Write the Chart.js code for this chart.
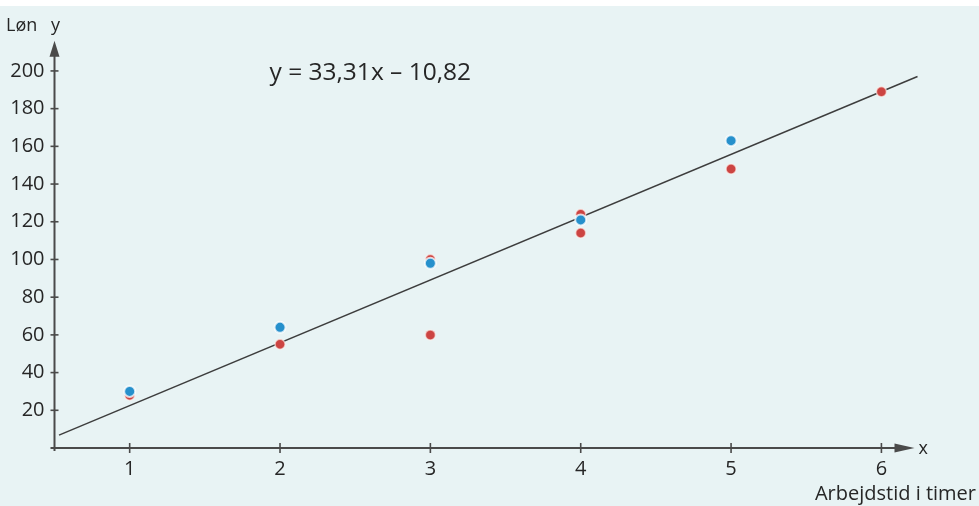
<!DOCTYPE html>
<html>
<head>
<meta charset="utf-8">
<script src="https://cdn.jsdelivr.net/npm/chart.js@4/dist/chart.umd.min.js"></script>
<style>
  html, body { margin: 0; padding: 0; background: #ffffff; }
  #wrap { width: 979px; height: 506px; position: relative; }
  canvas { display: block; }
</style>
</head>
<body>
<div id="wrap"><canvas id="c" width="979" height="506"></canvas></div>
<script>
// Arbejdstid (timer) og løn – to grupper af målinger
const blueX = [1, 2, 3, 4, 5];
const blueY = [30, 64, 98, 121, 163];
const redX = [1, 2, 3, 3, 4, 4, 5, 6];
const redY = [28, 55, 100, 60, 124, 114, 148, 189];

// Regressionslinje y = 33,31x − 10,82
const slope = 33.31;
const intercept = -10.82;
const lineX = [0.53, 6.24];

const xTicks = [1, 2, 3, 4, 5, 6];
const yTicks = [20, 40, 60, 80, 100, 120, 140, 160, 180, 200];

const equationText = 'y = 33,31x \u2013 10,82';
const yTitle = 'Løn';
const xTitle = 'Arbejdstid i timer';

const FONT = '"Open Sans", "DejaVu Sans", sans-serif';
const INK = '#262626';
const AXIS = '#4a4a4a';
const BG = '#e8f3f4';

const toPoints = (xs, ys) => xs.map((x, i) => ({ x, y: ys[i] }));

const frame = {
  id: 'frame',
  beforeDraw(chart) {
    const ctx = chart.ctx;
    ctx.save();
    ctx.fillStyle = '#ffffff';
    ctx.fillRect(0, 0, chart.width, chart.height);
    ctx.fillStyle = BG;
    ctx.fillRect(0, 6, chart.width, chart.height - 6);
    ctx.restore();
  },
  beforeDatasetsDraw(chart) {
    const ctx = chart.ctx;
    const xs = chart.scales.x, ys = chart.scales.y;
    const ax = xs.getPixelForValue(0.5);
    const ay = ys.getPixelForValue(0);
    ctx.save();
    ctx.strokeStyle = AXIS;
    ctx.fillStyle = AXIS;
    ctx.lineWidth = 2;
    // y-akse med pil
    const yTop = ys.getPixelForValue(216);
    ctx.beginPath();
    ctx.moveTo(ax, ay + 3);
    ctx.lineTo(ax, yTop + 12);
    ctx.stroke();
    ctx.beginPath();
    ctx.moveTo(ax, yTop);
    ctx.lineTo(ax - 5, yTop + 16);
    ctx.lineTo(ax + 5, yTop + 16);
    ctx.closePath();
    ctx.fill();
    // x-akse med pil
    const xEnd = xs.getPixelForValue(6.22);
    ctx.beginPath();
    ctx.moveTo(ax - 4, ay);
    ctx.lineTo(xEnd - 14, ay);
    ctx.stroke();
    ctx.beginPath();
    ctx.moveTo(xEnd, ay);
    ctx.lineTo(xEnd - 20, ay - 4.5);
    ctx.lineTo(xEnd - 20, ay + 4.5);
    ctx.closePath();
    ctx.fill();
    // tick marks
    ctx.lineWidth = 1.6;
    yTicks.forEach(v => {
      const p = ys.getPixelForValue(v);
      ctx.beginPath();
      ctx.moveTo(ax - 4, p);
      ctx.lineTo(ax + 4, p);
      ctx.stroke();
    });
    xTicks.forEach(v => {
      const p = xs.getPixelForValue(v);
      ctx.beginPath();
      ctx.moveTo(p, ay - 5);
      ctx.lineTo(p, ay + 5);
      ctx.stroke();
    });
    ctx.restore();
  },
  afterDraw(chart) {
    const ctx = chart.ctx;
    const xs = chart.scales.x, ys = chart.scales.y;
    const ax = xs.getPixelForValue(0.5);
    const ay = ys.getPixelForValue(0);
    ctx.save();
    ctx.fillStyle = INK;
    ctx.textBaseline = 'alphabetic';
    ctx.font = '18px ' + FONT;
    ctx.textAlign = 'left';
    ctx.fillText(yTitle, 6, 31);
    ctx.textAlign = 'center';
    ctx.fillText('y', ax + 1, 31);
    ctx.textAlign = 'left';
    ctx.textBaseline = 'middle';
    ctx.fillText('x', xs.getPixelForValue(6.22) + 4, ay + 1);
    ctx.textBaseline = 'alphabetic';
    ctx.font = '20px ' + FONT;
    ctx.textAlign = 'right';
    ctx.fillText(xTitle, 976, 500);
    ctx.font = '24.5px ' + FONT;
    ctx.textAlign = 'left';
    ctx.textBaseline = 'middle';
    ctx.fillText(equationText, xs.getPixelForValue(1.93), ys.getPixelForValue(199));
    ctx.restore();
  }
};

new Chart(document.getElementById('c'), {
  type: 'scatter',
  data: {
    datasets: [
      {
        label: 'blå',
        data: toPoints(blueX, blueY),
        backgroundColor: '#2690cc',
        borderColor: 'rgba(255,255,255,0.75)',
        borderWidth: 2,
        pointRadius: 5.5,
        order: 0
      },
      {
        label: 'rød',
        data: toPoints(redX, redY),
        backgroundColor: '#cc4442',
        borderColor: 'rgba(255,240,235,0.6)',
        borderWidth: 1.5,
        pointRadius: 5,
        order: 1
      },
      {
        label: 'regression',
        data: lineX.map(x => ({ x, y: slope * x + intercept })),
        showLine: true,
        borderColor: '#3d3d3d',
        borderWidth: 1.5,
        pointRadius: 0,
        order: 2
      }
    ]
  },
  options: {
    responsive: false,
    animation: false,
    events: [],
    layout: { padding: { top: 37, right: 60, left: 0, bottom: 0 } },
    plugins: { legend: { display: false }, tooltip: { enabled: false } },
    scales: {
      x: {
        type: 'linear',
        min: 0.5,
        max: 6.25,
        afterFit(scale) { scale.height = 58; },
        afterBuildTicks(scale) { scale.ticks = xTicks.map(v => ({ value: v })); },
        grid: { display: false, drawTicks: false },
        border: { display: false },
        ticks: {
          padding: 9,
          color: INK,
          font: { family: FONT, size: 20 },
          maxRotation: 0,
          autoSkip: false
        }
      },
      y: {
        type: 'linear',
        min: 0,
        max: 218,
        afterFit(scale) { scale.width = 54.5; },
        afterBuildTicks(scale) { scale.ticks = yTicks.map(v => ({ value: v })); },
        grid: { display: false, drawTicks: false },
        border: { display: false },
        ticks: {
          padding: 10,
          color: INK,
          font: { family: FONT, size: 20 },
          autoSkip: false
        }
      }
    }
  },
  plugins: [frame]
});
</script>
</body>
</html>
